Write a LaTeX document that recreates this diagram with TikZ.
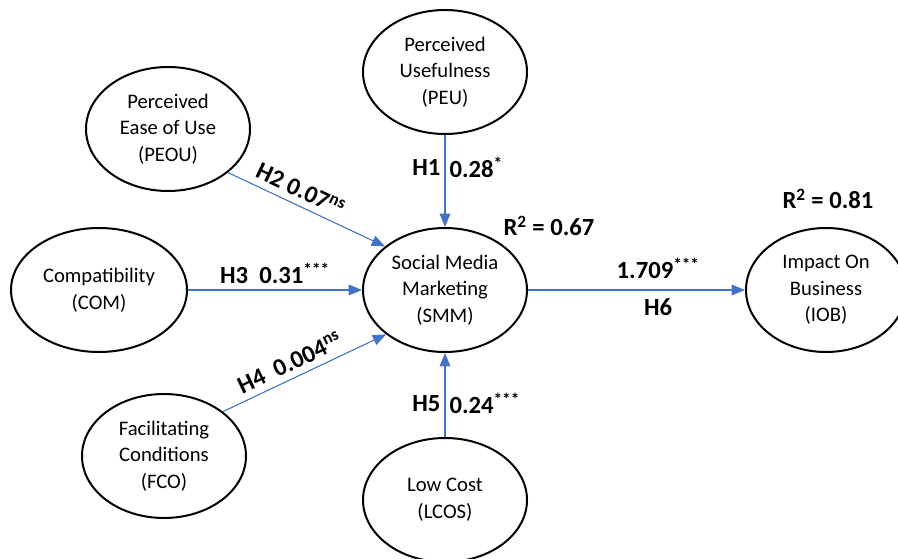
\documentclass[tikz,border=0pt]{standalone}
\usepackage{fontspec}
\setmainfont{Carlito}
\usetikzlibrary{arrows.meta,shapes.geometric}
\definecolor{arrowblue}{RGB}{68,114,196}
\begin{document}
\begin{tikzpicture}[x=0.75pt,y=-0.75pt,>={Triangle[length=10pt,width=8pt]},
  construct/.style={ellipse,draw,line width=1.5pt,minimum width=123pt,minimum height=93pt,
    inner sep=0pt,align=center,font=\fontsize{15.5}{20}\selectfont},
  link/.style={->,draw=arrowblue,fill=arrowblue,line width=0.8pt},
  coef/.style={font=\fontsize{18.5}{22}\selectfont\bfseries,inner sep=3pt}]
\useasboundingbox (0,0) rectangle (898,559);
% constructs
\node[construct] (peu) at (445,72) {Perceived\\Usefulness\\(PEU)};
\node[construct] (peou) at (168,129) {Perceived\\Ease of Use\\(PEOU)};
\node[construct,minimum width=132pt] (com) at (99,290) {Compatibility\\(COM)};
\node[construct] (smm) at (445,290) {Social Media\\Marketing\\(SMM)};
\node[construct,minimum width=120pt] (iob) at (826,290) {Impact On\\Business\\(IOB)};
\node[construct] (fco) at (164,456) {Facilitating\\Conditions\\(FCO)};
\node[construct] (lcos) at (445,500) {Low Cost\\(LCOS)};
% paths
\draw[link] (peu) -- (smm) node[coef,pos=0.35,left]{H1} node[coef,pos=0.35,right]{0.28\textsuperscript{*}};
\draw[link] (peou.-36) -- (smm.144) node[coef,pos=0.42,sloped,above=2pt]{H2 0.07\textsuperscript{ns}};
\draw[link] (com) -- (smm) node[coef,midway,above=1pt]{H3\ \ 0.31\textsuperscript{***}};
\draw[link] (fco.37) -- (smm.-143) node[coef,pos=0.45,sloped,above=2pt]{H4\ \ 0.004\textsuperscript{ns}};
\draw[link] (lcos) -- (smm) node[coef,pos=0.4,left]{H5} node[coef,pos=0.4,right]{0.24\textsuperscript{***}};
\draw[link] (smm) -- (iob) node[coef,pos=0.6,above=5pt]{1.709\textsuperscript{***}} node[coef,pos=0.6,below=3pt]{H6};
\node[coef] (r2smm) at (549,226) {R\textsuperscript{2} = 0.67};
\node[coef] (r2iob) at (828,199) {R\textsuperscript{2} = 0.81};
\end{tikzpicture}
\end{document}
